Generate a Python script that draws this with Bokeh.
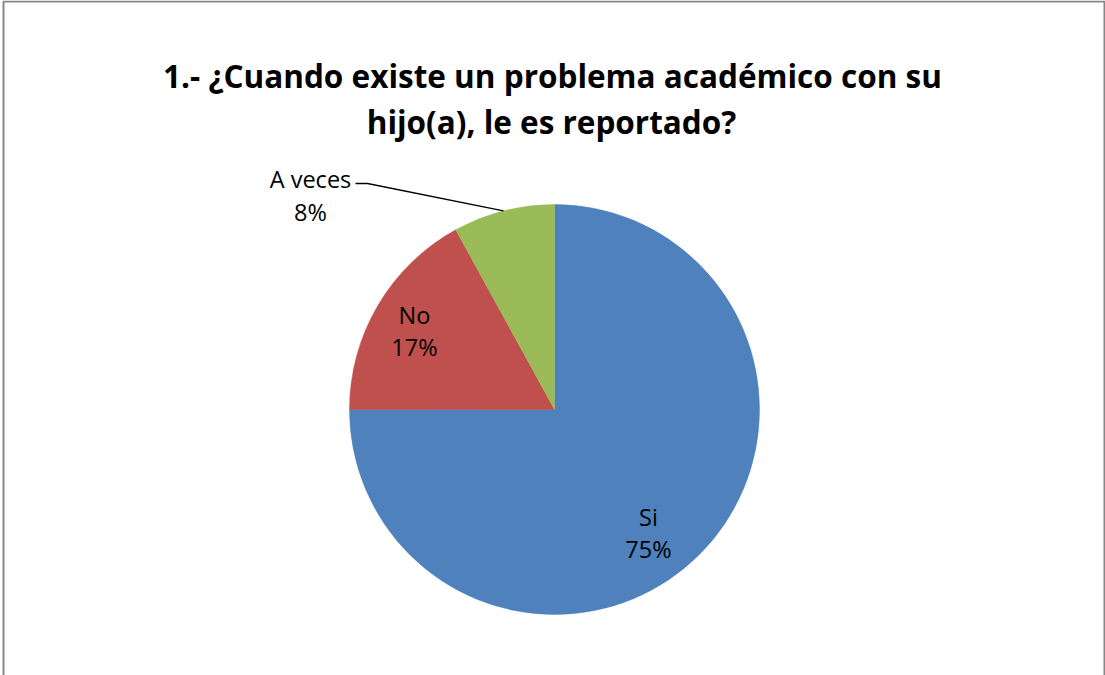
from bokeh.plotting import figure
from bokeh.models import Range1d, ColumnDataSource
from bokeh.embed import file_html
from bokeh.resources import INLINE
from bokeh.core.properties import value
import math

# ---- data ----
categories = ["Si", "No", "A veces"]
values = [75, 17, 8]
pct_labels = ["75%", "17%", "8%"]
colors = ["#4F81BD", "#C0504D", "#9BBB59"]
title_lines = ["1.- ¿Cuando existe un problema académico con su", "hijo(a), le es reportado?"]

W, H = 1105, 675
SHIFT = 7  # compensate text baseline offset

def X(ax):
    return ax

def Y(ay):
    return H - ay

p = figure(width=W, height=H, output_backend="svg", toolbar_location=None,
           x_range=Range1d(0, W), y_range=Range1d(0, H),
           x_axis_location=None, y_axis_location=None,
           min_border=0, outline_line_color=None)
p.grid.visible = False
p.background_fill_color = "white"

# pie geometry
cx, cy = X(554), Y(409)
R = 205
total = sum(values)
starts, ends, mids = [], [], []
cum = 0
for v in values:
    a0 = math.pi / 2 - 2 * math.pi * cum / total
    cum += v
    a1 = math.pi / 2 - 2 * math.pi * cum / total
    starts.append(a0)
    ends.append(a1)
    mids.append((a0 + a1) / 2)

src = ColumnDataSource(dict(start=starts, end=ends, color=colors))
p.wedge(x=cx, y=cy, radius=R, radius_units="screen", start_angle="start", end_angle="end",
        direction="clock", fill_color="color", line_color="color", line_width=0.5, source=src)

# labels (page coords of baselines)
lab_x = [648, 414, 310]
lab_y1 = [523, 321, 185]
lab_y2 = [555, 353, 218]
font = value("Open Sans")
p.text(x=[X(v) for v in lab_x], y=[Y(v - SHIFT) for v in lab_y1], text=categories,
       text_font=font, text_font_size="23.5px", text_align="center", text_baseline="alphabetic",
       text_color="#000000")
p.text(x=[X(v) for v in lab_x], y=[Y(v - SHIFT) for v in lab_y2], text=pct_labels,
       text_font=font, text_font_size="23.5px", text_align="center", text_baseline="alphabetic",
       text_color="#000000")

# leader line for "A veces"
gm = mids[2]
ex, ey = cx + R * math.cos(gm), cy + R * math.sin(gm)
p.line(x=[X(355), X(367), ex], y=[Y(183), Y(183), ey], line_color="#000000", line_width=1.3)

# title
p.text(x=[X(552), X(551)], y=[Y(82 - SHIFT), Y(128 - SHIFT)], text=title_lines,
       text_font=font, text_font_style="bold", text_font_size="31.5px",
       text_align="center", text_baseline="alphabetic", text_color="#000000")

# outer border (left, top, right)
p.line(x=[X(3), X(3), X(1104), X(1104)], y=[0, Y(1), Y(1), 0], line_color="#868686", line_width=2)

open("out.html", "w").write(file_html(p, INLINE))
